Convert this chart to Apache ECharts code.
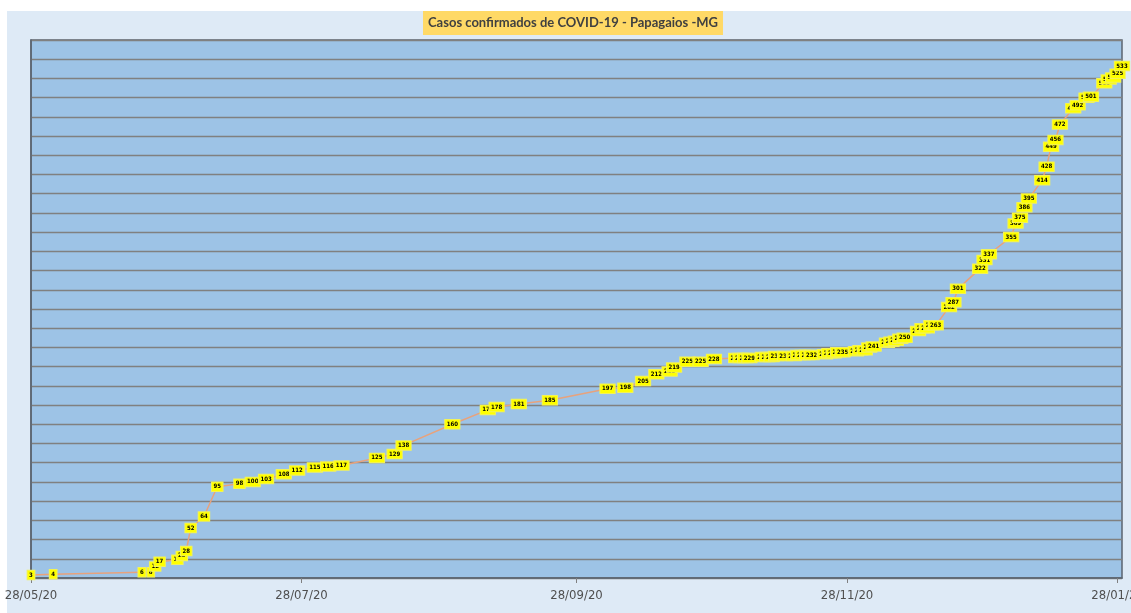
<!DOCTYPE html>
<html>
<head>
<meta charset="utf-8">
<script src="https://cdn.jsdelivr.net/npm/echarts@6/dist/echarts.min.js"></script>
<style>
  html, body { margin: 0; padding: 0; background: #ffffff; }
  #chart { width: 1131px; height: 613px; }
</style>
</head>
<body>
<div id="chart"></div>
<script>
// ---- Data ----
const titleText = 'Casos confirmados de COVID-19 - Papagaios -MG';

const dates = [
  '2020-05-28','2020-06-02','2020-06-22','2020-06-24','2020-06-25','2020-06-26','2020-06-30',
  '2020-07-01','2020-07-02','2020-07-03','2020-07-06','2020-07-09','2020-07-14','2020-07-17',
  '2020-07-20','2020-07-24','2020-07-27','2020-07-31','2020-08-03','2020-08-06','2020-08-14',
  '2020-08-18','2020-08-20','2020-08-31','2020-09-08','2020-09-10','2020-09-15','2020-09-22',
  '2020-10-05','2020-10-09','2020-10-13','2020-10-16','2020-10-19','2020-10-20','2020-10-23',
  '2020-10-26','2020-10-29','2020-11-03','2020-11-04','2020-11-05','2020-11-06','2020-11-09',
  '2020-11-10','2020-11-11','2020-11-12','2020-11-14','2020-11-16','2020-11-17','2020-11-18',
  '2020-11-19','2020-11-20','2020-11-23','2020-11-24','2020-11-25','2020-11-26','2020-11-27',
  '2020-11-30','2020-12-01','2020-12-02','2020-12-03','2020-12-04','2020-12-07','2020-12-08',
  '2020-12-09','2020-12-10','2020-12-11','2020-12-14','2020-12-15','2020-12-16','2020-12-17',
  '2020-12-18','2020-12-21','2020-12-22','2020-12-23','2020-12-28','2020-12-29','2020-12-30',
  '2021-01-04','2021-01-05','2021-01-06','2021-01-07','2021-01-08','2021-01-11','2021-01-12',
  '2021-01-13','2021-01-14','2021-01-15','2021-01-18','2021-01-19','2021-01-21','2021-01-22',
  '2021-01-25','2021-01-26','2021-01-27','2021-01-28','2021-01-29'
];

const cases = [
  3, 4, 6, 6, 12, 17, 19,
  23, 28, 52, 64, 95, 98, 100,
  103, 108, 112, 115, 116, 117, 125,
  129, 138, 160, 175, 178, 181, 185,
  197, 198, 205, 212, 215, 219, 225,
  225, 228, 229, 229, 229, 229, 230,
  230, 230, 231, 231, 231, 232, 232,
  232, 232, 233, 234, 234, 235, 235,
  236, 237, 237, 240, 241, 245, 246,
  247, 249, 250, 257, 260, 260, 263,
  263, 282, 287, 301, 322, 331, 337,
  355, 369, 375, 386, 395, 414, 428,
  449, 456, 472, 489, 492, 500, 501,
  515, 519, 521, 525, 533
];

const tickDates  = ['2020-05-28', '2020-07-28', '2020-09-28', '2020-11-28', '2021-01-28'];
const tickLabels = ['28/05/20', '28/07/20', '28/09/20', '28/11/20', '28/01/21'];
const axisStart = '2020-05-28';
const axisEnd   = '2021-01-29';
const yMax = 560;
const yStep = 20;

// ---- helpers: dates -> day number counted from the axis start ----
function dayNum(s) {
  const p = s.split('-').map(Number);
  const q = axisStart.split('-').map(Number);
  return Math.round((Date.UTC(p[0], p[1] - 1, p[2]) - Date.UTC(q[0], q[1] - 1, q[2])) / 86400000);
}
const tickDays = tickDates.map(dayNum);
const seriesData = dates.map((d, i) => [dayNum(d), cases[i]]);

const chart = echarts.init(document.getElementById('chart'), null, { renderer: 'canvas' });

const option = {
  backgroundColor: '#ffffff',
  animation: false,
  graphic: [
    {
      type: 'rect',
      z: -10,
      silent: true,
      shape: { x: 7, y: 11, width: 1124, height: 602 },
      style: { fill: '#DEEAF6' }
    }
  ],
  title: {
    text: titleText,
    left: 423,
    top: 11,
    padding: [3, 5, 3, 5],
    backgroundColor: '#FFD966',
    textStyle: {
      fontFamily: 'Lato',
      fontWeight: 'bold',
      fontSize: 13,
      color: '#404040',
      lineHeight: 18
    }
  },
  grid: {
    left: 31,
    right: 9,
    top: 40,
    bottom: 35,
    show: true,
    backgroundColor: '#9DC3E6',
    borderColor: '#5B6470',
    borderWidth: 1.5,
    containLabel: false,
    outerBoundsMode: 'none'
  },
  xAxis: {
    type: 'value',
    min: 0,
    max: dayNum(axisEnd),
    axisLine: { show: true, onZero: false, lineStyle: { color: '#5B6470', width: 1.5 } },
    axisTick: {
      show: true,
      customValues: tickDays,
      length: 5,
      lineStyle: { color: '#808080', width: 1 }
    },
    axisLabel: {
      show: true,
      customValues: tickDays,
      margin: 11,
      fontFamily: 'Liberation Sans Narrow, DejaVu Sans Condensed, sans-serif',
      fontSize: 13,
      color: '#4F4F4F',
      showMinLabel: true,
      showMaxLabel: true,
      formatter: function (value) {
        const idx = tickDays.indexOf(Math.round(value));
        return idx >= 0 ? tickLabels[idx] : '';
      }
    },
    splitLine: { show: false }
  },
  yAxis: {
    type: 'value',
    min: 0,
    max: yMax,
    interval: yStep,
    axisLine: { show: true, lineStyle: { color: '#5B6470', width: 1.5 } },
    axisTick: { show: false },
    axisLabel: { show: false },
    splitLine: { show: true, lineStyle: { color: '#808080', width: 1.3 } }
  },
  series: [
    {
      type: 'line',
      data: seriesData,
      symbol: 'circle',
      symbolSize: 2,
      showSymbol: true,
      itemStyle: { color: '#E8A27C' },
      lineStyle: { color: '#E8A27C', width: 1.5 },
      label: {
        show: true,
        position: 'inside',
        formatter: function (p) { return String(p.value[1]); },
        fontFamily: 'Liberation Sans Narrow, DejaVu Sans Condensed, sans-serif',
        fontSize: 6,
        fontWeight: 'bold',
        color: '#000000',
        backgroundColor: '#FFFF00',
        borderColor: '#F2F25A',
        borderWidth: 1,
        padding: [1.5, 1.5, 1, 1.5]
      },
      labelLayout: { hideOverlap: false }
    }
  ]
};

chart.setOption(option);
</script>
</body>
</html>
